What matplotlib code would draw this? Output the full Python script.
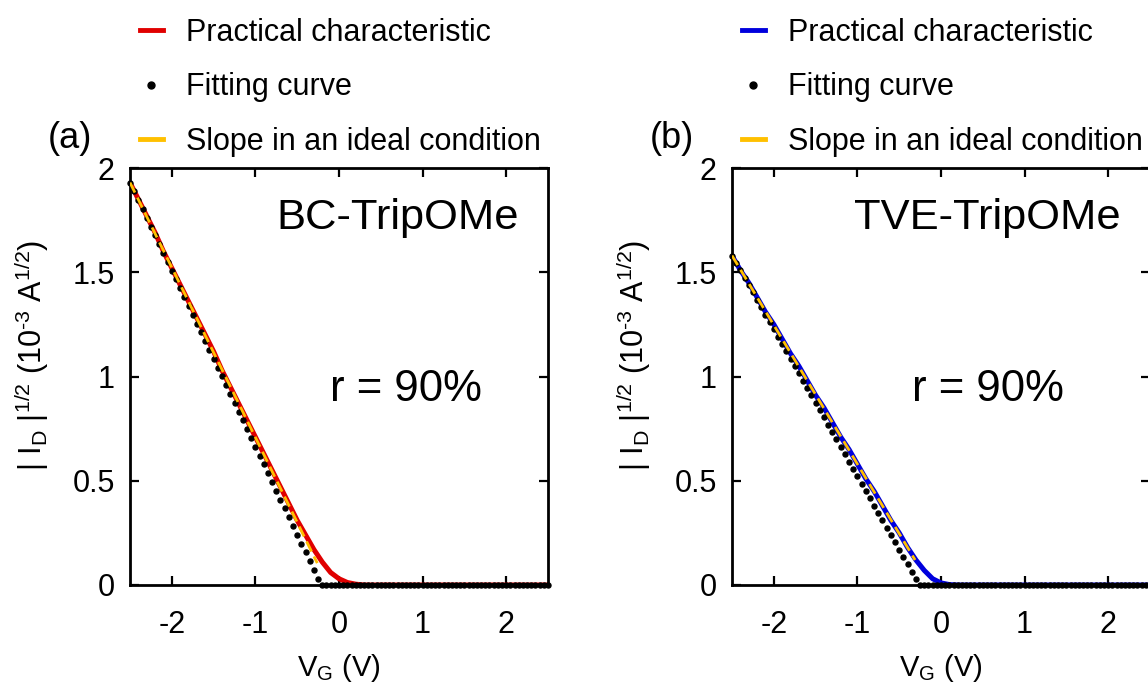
import numpy as np
import matplotlib
matplotlib.use("Agg")
import matplotlib.pyplot as plt
from matplotlib.lines import Line2D

plt.rcParams["font.family"] = ["Liberation Sans", "DejaVu Sans"]
plt.rcParams["mathtext.fontset"] = "custom"
plt.rcParams["mathtext.rm"] = "Liberation Sans"
plt.rcParams["mathtext.it"] = "Liberation Sans:italic"

# measured curves, 0.1 V step
vg_meas = [-2.5, -2.4, -2.3, -2.2, -2.1, -2.0, -1.9, -1.8, -1.7, -1.6, -1.5,
           -1.4, -1.3, -1.2, -1.1, -1.0, -0.9, -0.8, -0.7, -0.6, -0.5,
           -0.4, -0.3, -0.2, -0.1, 0.0, 0.1, 0.2, 0.3, 0.4, 0.5,
           0.6, 0.7, 0.8, 0.9, 1.0, 1.1, 1.2, 1.3, 1.4, 1.5,
           1.6, 1.7, 1.8, 1.9, 2.0, 2.1, 2.2, 2.3, 2.4, 2.5]
bc_meas = [1.93, 1.85, 1.77, 1.69, 1.60, 1.52, 1.44, 1.36, 1.28, 1.20, 1.12,
           1.03, 0.95, 0.87, 0.79, 0.71, 0.63, 0.55, 0.47, 0.39, 0.31,
           0.24, 0.17, 0.11, 0.06, 0.03, 0.012, 0.004, 0.0, 0.0, 0.0,
           0.0, 0.0, 0.0, 0.0, 0.0, 0.0, 0.0, 0.0, 0.0, 0.0,
           0.0, 0.0, 0.0, 0.0, 0.0, 0.0, 0.0, 0.0, 0.0, 0.0]
tve_meas = [1.58, 1.51, 1.45, 1.38, 1.31, 1.25, 1.18, 1.11, 1.05, 0.98, 0.91,
            0.85, 0.78, 0.71, 0.65, 0.58, 0.51, 0.45, 0.38, 0.31, 0.25,
            0.18, 0.12, 0.07, 0.03, 0.01, 0.002, 0.0, 0.0, 0.0, 0.0,
            0.0, 0.0, 0.0, 0.0, 0.0, 0.0, 0.0, 0.0, 0.0, 0.0,
            0.0, 0.0, 0.0, 0.0, 0.0, 0.0, 0.0, 0.0, 0.0, 0.0]

# fitting curves, 0.05 V step
vg_fit = [-2.5, -2.45, -2.4, -2.35, -2.3, -2.25, -2.2, -2.15, -2.1, -2.05,
          -2.0, -1.95, -1.9, -1.85, -1.8, -1.75, -1.7, -1.65, -1.6, -1.55,
          -1.5, -1.45, -1.4, -1.35, -1.3, -1.25, -1.2, -1.15, -1.1, -1.05,
          -1.0, -0.95, -0.9, -0.85, -0.8, -0.75, -0.7, -0.65, -0.6, -0.55,
          -0.5, -0.45, -0.4, -0.35, -0.3, -0.25, -0.2, -0.15, -0.1, -0.05,
          0.0, 0.05, 0.1, 0.15, 0.2, 0.25, 0.3, 0.35, 0.4, 0.45,
          0.5, 0.55, 0.6, 0.65, 0.7, 0.75, 0.8, 0.85, 0.9, 0.95,
          1.0, 1.05, 1.1, 1.15, 1.2, 1.25, 1.3, 1.35, 1.4, 1.45,
          1.5, 1.55, 1.6, 1.65, 1.7, 1.75, 1.8, 1.85, 1.9, 1.95,
          2.0, 2.05, 2.1, 2.15, 2.2, 2.25, 2.3, 2.35, 2.4, 2.45, 2.5]
bc_fit = [1.930, 1.888, 1.846, 1.803, 1.761, 1.719, 1.677, 1.635, 1.592, 1.550,
          1.508, 1.466, 1.423, 1.381, 1.339, 1.297, 1.254, 1.212, 1.170, 1.128,
          1.085, 1.043, 1.001, 0.959, 0.916, 0.874, 0.832, 0.790, 0.747, 0.705,
          0.663, 0.620, 0.578, 0.536, 0.494, 0.451, 0.409, 0.367, 0.325, 0.282,
          0.240, 0.198, 0.156, 0.113, 0.071, 0.029, 0.0, 0.0, 0.0, 0.0,
          0.0, 0.0, 0.0, 0.0, 0.0, 0.0, 0.0, 0.0, 0.0, 0.0,
          0.0, 0.0, 0.0, 0.0, 0.0, 0.0, 0.0, 0.0, 0.0, 0.0,
          0.0, 0.0, 0.0, 0.0, 0.0, 0.0, 0.0, 0.0, 0.0, 0.0,
          0.0, 0.0, 0.0, 0.0, 0.0, 0.0, 0.0, 0.0, 0.0, 0.0,
          0.0, 0.0, 0.0, 0.0, 0.0, 0.0, 0.0, 0.0, 0.0, 0.0, 0.0]
tve_fit = [1.579, 1.544, 1.509, 1.473, 1.438, 1.403, 1.368, 1.332, 1.297, 1.262,
           1.227, 1.191, 1.156, 1.121, 1.086, 1.050, 1.015, 0.980, 0.945, 0.909,
           0.874, 0.839, 0.804, 0.768, 0.733, 0.698, 0.663, 0.627, 0.592, 0.557,
           0.522, 0.486, 0.451, 0.416, 0.381, 0.345, 0.310, 0.275, 0.240, 0.204,
           0.169, 0.134, 0.099, 0.063, 0.028, 0.0, 0.0, 0.0, 0.0, 0.0,
           0.0, 0.0, 0.0, 0.0, 0.0, 0.0, 0.0, 0.0, 0.0, 0.0,
           0.0, 0.0, 0.0, 0.0, 0.0, 0.0, 0.0, 0.0, 0.0, 0.0,
           0.0, 0.0, 0.0, 0.0, 0.0, 0.0, 0.0, 0.0, 0.0, 0.0,
           0.0, 0.0, 0.0, 0.0, 0.0, 0.0, 0.0, 0.0, 0.0, 0.0,
           0.0, 0.0, 0.0, 0.0, 0.0, 0.0, 0.0, 0.0, 0.0, 0.0, 0.0]

# ideal slope segments (start, end)
bc_ideal_v = [-2.5, -0.26]
bc_ideal_y = [1.93, 0.105]
tve_ideal_v = [-2.5, -0.31]
tve_ideal_y = [1.58, 0.12]

labels = ["Practical characteristic", "Fitting curve", "Slope in an ideal condition"]
yellow = "#ffc000"

panels = [
    dict(tag="(a)", name="BC-TripOMe", color="#e00000", meas=bc_meas, fit=bc_fit,
         iv=bc_ideal_v, iy=bc_ideal_y, left=130, rx=0.66),
    dict(tag="(b)", name="TVE-TripOMe", color="#0000dd", meas=tve_meas, fit=tve_fit,
         iv=tve_ideal_v, iy=tve_ideal_y, left=732, rx=0.612),
]

W, H = 1148, 686
fig = plt.figure(figsize=(W / 100, H / 100), dpi=100)

for p in panels:
    ax = fig.add_axes([p["left"] / W, (H - 585) / H, 418 / W, 417 / H])
    ax.plot(vg_meas, p["meas"], color=p["color"], lw=3.6, zorder=2,
            solid_capstyle="butt")
    ax.plot(vg_fit, p["fit"], ls="none", marker="o", ms=3.6, color="black",
            zorder=3, clip_on=False)
    ax.plot(p["iv"], p["iy"], color=yellow, lw=2.0, ls=(0, (4, 2)), zorder=4)

    ax.set_xlim(-2.5, 2.5)
    ax.set_ylim(0, 2)
    ax.set_xticks([-2, -1, 0, 1, 2])
    ax.set_xticklabels(["-2", "-1", "0", "1", "2"])
    ax.set_yticks([0, 0.5, 1, 1.5, 2])
    ax.set_yticklabels(["0", "0.5", "1", "1.5", "2"])
    ax.tick_params(direction="in", top=True, right=True, length=6.5, width=1.6,
                   labelsize=22)
    ax.tick_params(axis="x", pad=18)
    ax.tick_params(axis="y", pad=11)
    for s in ax.spines.values():
        s.set_linewidth(2.0)

    ax.set_xlabel(r"V$_\mathregular{G}$ (V)", fontsize=21, labelpad=9)
    ax.set_ylabel("| I$_\\mathregular{D}$ |$^\\mathregular{1/2}$ (10$^\\mathregular{\u20103}$ A$^\\mathregular{1/2}$)",
                  fontsize=22)
    ax.yaxis.set_label_coords(-0.19, 0.55)

    ax.text(0.93, 0.88, p["name"], transform=ax.transAxes, fontsize=31.3,
            ha="right", va="center")
    ax.text(p["rx"], 0.468, "r = 90%", transform=ax.transAxes, fontsize=31.5,
            ha="center", va="center")

    ax.text((p["left"] - 60) / W, 1 - 138 / H, p["tag"], transform=fig.transFigure,
            fontsize=26, ha="center", va="center")

    handles = [
        Line2D([], [], color=p["color"], lw=3.5),
        Line2D([], [], ls="none", marker="o", ms=5, color="black"),
        Line2D([], [], color=yellow, lw=3.5),
    ]
    ax.legend(handles, labels, loc="upper left",
              bbox_to_anchor=((p["left"] + 10) / W, 1 - 18 / H),
              bbox_transform=fig.transFigure, frameon=False, fontsize=22,
              handlelength=0.75, handletextpad=0.75, labelspacing=0.8,
              borderpad=0, borderaxespad=0, numpoints=1)

fig.savefig("out.png", dpi=100)
